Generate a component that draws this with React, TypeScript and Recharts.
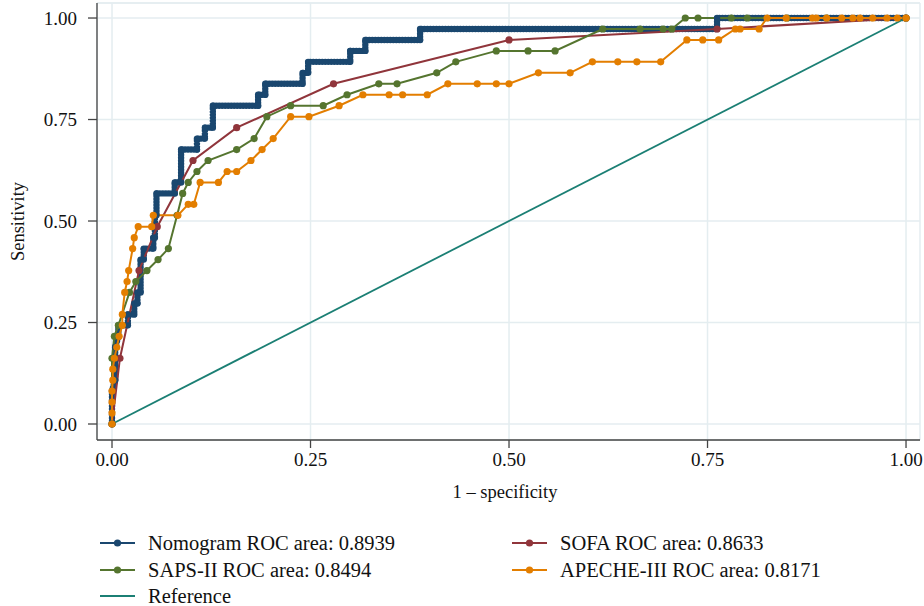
import React from "react";
import { LineChart, Line, XAxis, YAxis, CartesianGrid, ReferenceLine, Legend, Label } from "recharts";

const FONT = "'Liberation Serif', 'DejaVu Serif', serif";

const xTicks = [0, 0.25, 0.5, 0.75, 1];
const yTicks = [0, 0.25, 0.5, 0.75, 1];

// Nomogram (step ROC curve corners)
const nomogramFpr = [0, 0, 0.004, 0.004, 0.008, 0.008, 0.02, 0.02, 0.028, 0.028, 0.032, 0.032, 0.036, 0.036, 0.04, 0.04, 0.052, 0.052, 0.054, 0.054, 0.056, 0.056, 0.079, 0.079, 0.087, 0.087, 0.107, 0.107, 0.117, 0.117, 0.127, 0.127, 0.184, 0.184, 0.193, 0.193, 0.24, 0.24, 0.247, 0.247, 0.3, 0.3, 0.319, 0.319, 0.388, 0.388, 0.762, 0.762, 1.0];
const nomogramTpr = [0, 0.081, 0.108, 0.189, 0.216, 0.243, 0.243, 0.27, 0.27, 0.297, 0.297, 0.324, 0.324, 0.405, 0.405, 0.432, 0.432, 0.459, 0.459, 0.514, 0.514, 0.568, 0.568, 0.595, 0.595, 0.676, 0.676, 0.703, 0.703, 0.73, 0.73, 0.784, 0.784, 0.811, 0.811, 0.838, 0.838, 0.865, 0.865, 0.892, 0.892, 0.919, 0.919, 0.946, 0.946, 0.973, 0.973, 1.0, 1.0];

// SOFA
const sofaFpr = [0, 0.01, 0.034, 0.057, 0.102, 0.157, 0.279, 0.5, 0.762, 1.0];
const sofaTpr = [0, 0.162, 0.378, 0.486, 0.649, 0.73, 0.838, 0.946, 0.973, 1.0];

// SAPS-II
const sapsFpr = [0, 0, 0.003, 0.008, 0.022, 0.03, 0.044, 0.058, 0.071, 0.082, 0.089, 0.096, 0.107, 0.121, 0.157, 0.179, 0.195, 0.225, 0.266, 0.296, 0.336, 0.359, 0.409, 0.433, 0.484, 0.524, 0.558, 0.618, 0.665, 0.694, 0.705, 0.722, 0.738, 0.78, 0.8, 0.85, 0.9, 1.0];
const sapsTpr = [0, 0.162, 0.216, 0.243, 0.324, 0.351, 0.378, 0.405, 0.432, 0.514, 0.568, 0.595, 0.622, 0.649, 0.676, 0.703, 0.757, 0.784, 0.784, 0.811, 0.838, 0.838, 0.865, 0.892, 0.919, 0.919, 0.919, 0.973, 0.973, 0.973, 0.973, 1.0, 1.0, 1.0, 1.0, 1.0, 1.0, 1.0];

// APECHE-III
const apecheFpr = [0, 0, 0, 0, 0.001, 0.001, 0.003, 0.006, 0.009, 0.013, 0.013, 0.016, 0.019, 0.021, 0.026, 0.028, 0.033, 0.05, 0.052, 0.083, 0.096, 0.103, 0.111, 0.134, 0.145, 0.157, 0.175, 0.189, 0.203, 0.225, 0.248, 0.286, 0.316, 0.349, 0.366, 0.397, 0.423, 0.46, 0.484, 0.5, 0.537, 0.577, 0.605, 0.637, 0.661, 0.691, 0.724, 0.744, 0.764, 0.785, 0.791, 0.815, 0.825, 0.849, 0.882, 0.887, 0.9, 0.919, 0.933, 0.942, 0.958, 0.976, 0.989, 1.0];
const apecheTpr = [0, 0.027, 0.054, 0.081, 0.108, 0.135, 0.162, 0.189, 0.216, 0.243, 0.27, 0.324, 0.351, 0.378, 0.432, 0.459, 0.486, 0.486, 0.514, 0.514, 0.541, 0.541, 0.595, 0.595, 0.622, 0.622, 0.649, 0.676, 0.703, 0.757, 0.757, 0.784, 0.811, 0.811, 0.811, 0.811, 0.838, 0.838, 0.838, 0.838, 0.865, 0.865, 0.892, 0.892, 0.892, 0.892, 0.946, 0.946, 0.946, 0.973, 0.973, 0.973, 1.0, 1.0, 1.0, 1.0, 1.0, 1.0, 1.0, 1.0, 1.0, 1.0, 1.0, 1.0];

// Reference diagonal
const refFpr = [0, 1];
const refTpr = [0, 1];

const seriesNames = [
  "Nomogram ROC area: 0.8939",
  "SOFA ROC area: 0.8633",
  "SAPS-II ROC area: 0.8494",
  "APECHE-III ROC area: 0.8171",
  "Reference",
];

const NAVY = "#1a476f";
const MAROON = "#90353b";
const GREEN = "#55752f";
const ORANGE = "#e37e00";
const TEAL = "#1b7f74";

const zip = (xs: number[], ys: number[]) => xs.map((x, i) => ({ x, y: ys[i] }));

const nomogramData = zip(nomogramFpr, nomogramTpr);
const sofaData = zip(sofaFpr, sofaTpr);
const sapsData = zip(sapsFpr, sapsTpr);
const apecheData = zip(apecheFpr, apecheTpr);
const refData = zip(refFpr, refTpr);

const X_DOMAIN: [number, number] = [-0.0189, 1.0176];
const Y_DOMAIN: [number, number] = [-0.0394, 1.037];

const legendItems = [
  { name: seriesNames[0], color: NAVY, dot: true, col: 0, row: 0 },
  { name: seriesNames[1], color: MAROON, dot: true, col: 1, row: 0 },
  { name: seriesNames[2], color: GREEN, dot: true, col: 0, row: 1 },
  { name: seriesNames[3], color: ORANGE, dot: true, col: 1, row: 1 },
  { name: seriesNames[4], color: TEAL, dot: false, col: 0, row: 2 },
];

const LegendContent = () => {
  const colX = [100, 512];
  const rowY = [18, 45, 71];
  return (
    <svg width={924} height={82} style={{ display: "block" }}>
      {legendItems.map((it) => {
        const x = colX[it.col];
        const y = rowY[it.row];
        return (
          <g key={it.name}>
            <line x1={x} x2={x + 35} y1={y} y2={y} stroke={it.color} strokeWidth={1.8} />
            {it.dot && <circle cx={x + 17.5} cy={y} r={3.6} fill={it.color} />}
            <text x={x + 48} y={y} dominantBaseline="central" fontFamily={FONT} fontSize={20.5} fill="#111">
              {it.name}
            </text>
          </g>
        );
      })}
    </svg>
  );
};

const YLabel = (props: any) => {
  const vb = props.viewBox || {};
  const cx = 18;
  const cy = (vb.y ?? 0) + (vb.height ?? 0) / 2;
  return (
    <text x={cx} y={cy} transform={`rotate(-90, ${cx}, ${cy})`} textAnchor="middle" dominantBaseline="central" fontFamily={FONT} fontSize={18.5} fill="#111">
      Sensitivity
    </text>
  );
};

const XLabel = () => {
  return (
    <text x={505} y={492} textAnchor="middle" dominantBaseline="central" fontFamily={FONT} fontSize={18.5} fill="#111">
      1 – specificity
    </text>
  );
};

export default function App() {
  const tickStyle = { fontSize: 19, fill: "#111", fontFamily: FONT };
  return (
    <div style={{ position: "absolute", left: 0, top: 0, width: 924, height: 606, background: "#fff" }}>
      <LineChart width={924} height={606} margin={{ top: 3, right: 4, left: 0, bottom: 106 }}>
        <CartesianGrid stroke="#e4edf0" strokeWidth={1.5} />
        <ReferenceLine y={Y_DOMAIN[1]} stroke="#e4edf0" strokeWidth={1.5} ifOverflow="visible" />
        <XAxis
          type="number"
          dataKey="x"
          domain={X_DOMAIN}
          ticks={xTicks}
          allowDataOverflow
          tickFormatter={(v: number) => v.toFixed(2)}
          tick={tickStyle}
          tickSize={8}
          tickMargin={5}
          height={60}
          stroke="#444"
          axisLine={{ stroke: "#444", strokeWidth: 1.3 }}
          tickLine={{ stroke: "#444", strokeWidth: 1.3 }}
        >
          <Label content={<XLabel />} />
        </XAxis>
        <YAxis
          type="number"
          dataKey="y"
          domain={Y_DOMAIN}
          ticks={yTicks}
          allowDataOverflow
          tickFormatter={(v: number) => v.toFixed(2)}
          tick={tickStyle}
          tickSize={9}
          tickMargin={11}
          width={97}
          stroke="#444"
          axisLine={{ stroke: "#444", strokeWidth: 1.3 }}
          tickLine={{ stroke: "#444", strokeWidth: 1.3 }}
        >
          <Label content={<YLabel />} />
        </YAxis>
        <Legend
          layout="horizontal"
          verticalAlign="middle"
          align="center"
          content={<LegendContent />}
          wrapperStyle={{ position: "absolute", left: 0, top: 525, width: 924, height: 82 }}
        />
        <Line
          data={nomogramData}
          dataKey="y"
          name={seriesNames[0]}
          type="linear"
          stroke={NAVY}
          strokeWidth={6.4}
          strokeDasharray="0 3"
          strokeLinecap="round"
          dot={{ r: 3.2, fill: NAVY, stroke: "none" }}
          isAnimationActive={false}
        />
        <Line
          data={sofaData}
          dataKey="y"
          name={seriesNames[1]}
          type="linear"
          stroke={MAROON}
          strokeWidth={2}
          dot={{ r: 3.6, fill: MAROON, stroke: "none" }}
          isAnimationActive={false}
        />
        <Line
          data={sapsData}
          dataKey="y"
          name={seriesNames[2]}
          type="linear"
          stroke={GREEN}
          strokeWidth={2}
          dot={{ r: 3.6, fill: GREEN, stroke: "none" }}
          isAnimationActive={false}
        />
        <Line
          data={apecheData}
          dataKey="y"
          name={seriesNames[3]}
          type="linear"
          stroke={ORANGE}
          strokeWidth={2}
          dot={{ r: 3.6, fill: ORANGE, stroke: "none" }}
          isAnimationActive={false}
        />
        <Line
          data={refData}
          dataKey="y"
          name={seriesNames[4]}
          type="linear"
          stroke={TEAL}
          strokeWidth={1.8}
          dot={false}
          isAnimationActive={false}
        />
      </LineChart>
    </div>
  );
}
